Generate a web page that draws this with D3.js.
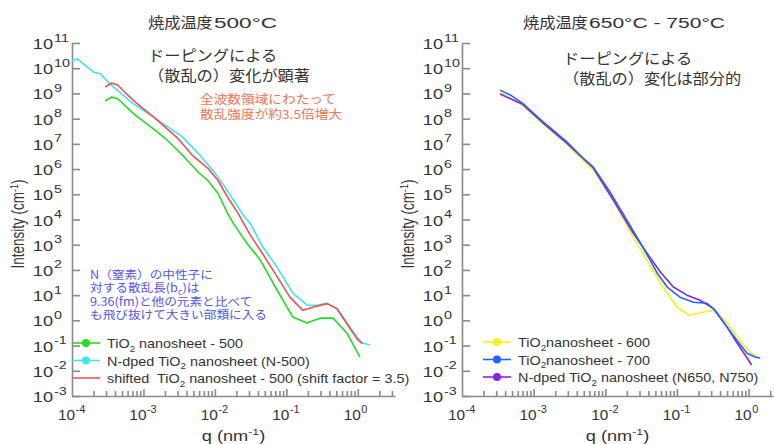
<!DOCTYPE html>
<html>
<head>
<meta charset="utf-8">
<script src="https://cdn.jsdelivr.net/npm/d3@7"></script>
<style>
	html, body { margin: 0; padding: 0; background: #fff; }
	svg { display: block; font-family: "Liberation Sans", Arial, sans-serif; }
	.jp { font-family: "Noto Sans CJK JP", sans-serif; }
	text { white-space: pre; }
</style>
</head>
<body>
<div id="chart" style="width:774px;height:444px"></div>
<script>

// ---- data (q in nm^-1, intensity in cm^-1) ----

// left panel : 500 C
var q500 = [2.9e-4, 3.6e-4, 4.4e-4, 7.6e-4, 1.45e-3, 2.0e-3, 3.5e-3, 5.8e-3, 7.9e-3, 1.1e-2, 1.5e-2, 1.8e-2, 2.8e-2, 4.3e-2, 7.4e-2, 0.123, 0.195, 0.30, 0.45, 0.71, 1.07];
var i500 = [5.0e8, 7.2e8, 6.0e8, 1.4e8, 3.5e7, 1.7e7, 3.6e6, 7.6e5, 3.6e5, 1.1e5, 1.8e4, 7.2e3, 1.15e3, 2.5e2, 16, 1.35, 0.78, 1.23, 1.23, 0.3, 0.035];

var qN500 = [1.0e-4, 1.2e-4, 2.0e-4, 2.5e-4, 3.2e-4, 6.9e-4, 1.45e-3, 3.5e-3, 5.8e-3, 1.0e-2, 1.38e-2, 1.9e-2, 2.6e-2, 3.1e-2, 4.7e-2, 7.4e-2, 0.123, 0.195, 0.27, 0.37, 0.51, 0.71, 0.98, 1.17, 1.48];
var iN500 = [2.1e10, 2.3e10, 7.0e9, 6.0e9, 2.8e9, 4.2e8, 1.05e8, 1.9e7, 4.3e6, 6.9e5, 1.95e5, 4.9e4, 1.26e4, 7.2e3, 7.9e2, 1.3e2, 12, 4.0, 4.0, 4.8, 3.0, 0.78, 0.21, 0.126, 0.105];

var qShift = [2.9e-4, 3.6e-4, 4.4e-4, 6.0e-4, 7.6e-4, 1.45e-3, 3.0e-3, 4.8e-3, 7.9e-3, 1.1e-2, 1.5e-2, 2.1e-2, 3.1e-2, 4.3e-2, 6.5e-2, 0.112, 0.17, 0.234, 0.37, 0.51, 0.71, 0.98, 1.15];
var iShift = [1.8e9, 2.6e9, 2.1e9, 8.7e8, 4.6e8, 1.05e8, 1.7e7, 3.6e6, 1.1e6, 3.6e5, 7.8e4, 1.8e4, 2.5e3, 6.2e2, 98, 8.3, 2.5, 3.3, 4.6, 2.9, 0.7, 0.18, 0.12];

// right panel : 650 - 750 C
var q600 = [3.4e-4, 6.9e-4, 1.35e-3, 2.9e-3, 6.8e-3, 1.29e-2, 2.45e-2, 3.8e-2, 6.4e-2, 0.10, 0.15, 0.23, 0.34, 0.50, 0.76, 1.05, 1.32];
var i600 = [1.1e9, 3.5e8, 6.2e7, 9.8e6, 9.1e5, 5.9e4, 2.0e3, 2.5e2, 21, 3.3, 1.6, 2.1, 2.5, 0.78, 0.16, 0.055, 0.035];

var q700 = [3.4e-4, 4.7e-4, 6.9e-4, 1.35e-3, 1.86e-3, 2.9e-3, 4.9e-3, 6.8e-3, 1.17e-2, 2.0e-2, 3.1e-2, 4.0e-2, 5.3e-2, 7.3e-2, 0.11, 0.17, 0.26, 0.34, 0.50, 0.69, 0.95, 1.23, 1.45];
var i700 = [1.35e9, 8.7e8, 4.2e8, 7.4e7, 3.5e7, 1.2e7, 2.7e6, 1.2e6, 1.2e5, 9.5e3, 1.15e3, 3.2e2, 74, 21, 8.3, 5.2, 4.8, 2.5, 0.54, 0.16, 0.05, 0.035, 0.032];

var qN650 = [3.4e-4, 6.9e-4, 1.35e-3, 2.9e-3, 6.8e-3, 1.29e-2, 2.45e-2, 3.8e-2, 5.9e-2, 8.9e-2, 0.138, 0.21, 0.32, 0.50, 0.69, 0.95, 1.1];
var iN650 = [9.5e8, 3.8e8, 6.8e7, 1.07e7, 1.1e6, 5.9e4, 2.9e3, 4.7e2, 81, 21, 10, 6.3, 3.0, 0.54, 0.126, 0.032, 0.017];

// ticks
var yExponents = [11, 10, 9, 8, 7, 6, 5, 4, 3, 2, 1, 0, -1, -2, -3];
var xExponents = [-4, -3, -2, -1, 0];


var
	width = 774,
	height = 444,
	axisColor = "#8a8a8a",
	textColor = "#333333",

	svg = d3.select("#chart")
		.append("svg")
		.attr("width", width)
		.attr("height", height);

function zip(qs, is) {
	return qs.map((q, k) => ({ q: q, i: is[k] }));
}

// the picture's lettering is stretched sideways, so text gets a scaleX
function stext(parent, x, y, size, sx, cls) {
	return parent.append("text")
		.attr("class", cls || null)
		.attr("transform", "translate(" + x + "," + y + ") scale(" + sx + ",1)")
		.attr("font-size", size)
		.attr("fill", textColor);
}

function panel(cfg) {
	var
		x = d3.scaleLog().domain(cfg.xDomain).range([cfg.x0, cfg.x1]),
		y = d3.scaleLog().domain([1e-3, 1e11]).range([396, 43]),
		g = svg.append("g");

	// minor + major ticks along q
	var xt = [];
	for (var e = -4; e <= 0; e++) {
		for (var m = 1; m <= 9; m++) {
			var v = m * Math.pow(10, e);
			if (v > 1e-4 && v <= cfg.xDomain[1]) xt.push(v);
		}
	}

	var xa = g.append("g")
		.attr("transform", "translate(0,396)")
		.call(d3.axisBottom(x).tickValues(xt).tickFormat("").tickSizeInner(-5).tickSizeOuter(0));
	xa.selectAll("line").attr("y2", d => Math.abs(Math.log10(d) - Math.round(Math.log10(d))) < 1e-6 ? -7 : -5);

	g.append("g")
		.attr("transform", "translate(" + cfg.x0 + ",0)")
		.call(d3.axisLeft(y).tickValues(yExponents.map(e => Math.pow(10, e))).tickFormat("").tickSizeInner(-8).tickSizeOuter(0));

	g.selectAll(".domain, .tick line")
		.attr("stroke", axisColor)
		.attr("stroke-width", 1.6);

	// y tick labels: "10" right-aligned, exponent after it
	yExponents.forEach(function(e) {
		var ty = y(Math.pow(10, e));
		stext(g, cfg.x0 - 19, ty + 6, 14, 1.3).attr("text-anchor", "end").text("10");
		stext(g, cfg.x0 - 18, ty - 1.5, 11, 1.3).text(e);
	});

	// x tick labels
	xExponents.forEach(function(e) {
		var tx = x(Math.pow(10, e));
		stext(g, tx + 3, 420, 14, 1.1).attr("text-anchor", "end").text("10");
		stext(g, tx + 3.5, 412.5, 10, 1.1).text(e);
	});

	// axis titles
	var yt = g.append("text")
		.attr("transform", "translate(" + (cfg.x0 - 48) + ",224) rotate(-90) scale(1,1.3)")
		.attr("text-anchor", "middle")
		.attr("font-size", 13.5)
		.attr("fill", textColor);
	yt.append("tspan").text("Intensity (cm");
	yt.append("tspan").attr("dy", -5).attr("font-size", 9).text("-1");
	yt.append("tspan").attr("dy", 5).text(")");

	var xt2 = stext(g, (cfg.x0 + cfg.x1) / 2, 441, 14, 1.3).attr("text-anchor", "middle");
	xt2.append("tspan").text("q (nm");
	xt2.append("tspan").attr("dy", -6).attr("font-size", 9.5).text("-1");
	xt2.append("tspan").attr("dy", 6).text(")");

	// curves
	var line = d3.line()
		.x(d => x(d.q))
		.y(d => y(d.i));

	cfg.series.forEach(function(s) {
		g.append("path")
			.datum(zip(s.q, s.i))
			.attr("fill", "none")
			.attr("stroke", s.color)
			.attr("stroke-width", 1.6)
			.attr("stroke-linejoin", "round")
			.attr("d", line);
	});

	// legend
	cfg.legend.forEach(function(s, k) {
		var ly = cfg.legendY + k * 17.5;
		g.append("line")
			.attr("x1", cfg.legendX).attr("x2", cfg.legendX + 28)
			.attr("y1", ly).attr("y2", ly)
			.attr("stroke", s.color).attr("stroke-width", 1.6);
		if (s.marker) {
			g.append("circle")
				.attr("cx", cfg.legendX + 14).attr("cy", ly).attr("r", 4)
				.attr("fill", s.color);
		}
		var t = stext(g, cfg.legendX + 35, ly + 5, 12.5, 1.15);
		t.append("tspan").text(s.pre);
		t.append("tspan").attr("dy", 3.5).attr("font-size", 8.5).text("2");
		t.append("tspan").attr("dy", -3.5).text(s.post);
	});
}

function jpText(x, y, lines, size, sx, color, lineHeight) {
	lines.forEach(function(l, k) {
		stext(svg, x, y + k * lineHeight, size, sx, "jp")
			.attr("fill", color)
			.text(l);
	});
}

panel({
	x0: 72, x1: 395, xDomain: [1e-4, Math.pow(10, 0.52)],
	series: [
		{ q: q500, i: i500, color: "#22dd22" },
		{ q: qN500, i: iN500, color: "#3ce6f2" },
		{ q: qShift, i: iShift, color: "#f45050" }
	],
	legendX: 72, legendY: 343,
	legend: [
		{ color: "#22dd22", marker: true, pre: "TiO", post: " nanosheet - 500" },
		{ color: "#3ce6f2", marker: true, pre: "N-dped TiO", post: " nanosheet (N-500)" },
		{ color: "#f45050", marker: false, pre: "shifted  TiO", post: " nanosheet - 500 (shift factor = 3.5)" }
	]
});

panel({
	x0: 462, x1: 773, xDomain: [1e-4, Math.pow(10, 0.34)],
	series: [
		{ q: q600, i: i600, color: "#f2f21e" },
		{ q: qN650, i: iN650, color: "#8a22e6" },
		{ q: q700, i: i700, color: "#1e66ff" }
	],
	legendX: 483, legendY: 342,
	legend: [
		{ color: "#f2f21e", marker: true, pre: "TiO", post: "nanosheet - 600" },
		{ color: "#1e66ff", marker: true, pre: "TiO", post: "nanosheet - 700" },
		{ color: "#8a22e6", marker: true, pre: "N-dped TiO", post: " nanosheet (N650, N750)" }
	]
});

// titles: kanji part + stretched latin part
jpText(148, 28, ["焼成温度"], 15, 1.08, textColor, 0);
svg.append("text")
	.attr("x", 214).attr("y", 28).attr("font-size", 15.5).attr("fill", textColor)
	.attr("textLength", 63).attr("lengthAdjust", "spacingAndGlyphs")
	.text("500°C");
jpText(523, 28, ["焼成温度"], 15, 1.08, textColor, 0);
svg.append("text")
	.attr("x", 589).attr("y", 28).attr("font-size", 15.5).attr("fill", textColor)
	.attr("textLength", 136).attr("lengthAdjust", "spacingAndGlyphs")
	.text("650°C - 750°C");

// notes
jpText(148, 61, ["ドーピングによる", "（散乱の）変化が顕著"], 15, 1.08, textColor, 20);
jpText(563, 64, ["ドーピングによる", "（散乱の）変化は部分的"], 15, 1.08, textColor, 20);
jpText(200, 104, ["全波数領域にわたって", "散乱強度が約3.5倍増大"], 12, 1.14, "#f27452", 15);

var blueNote = [
	"N（窒素）の中性子に",
	"対する散乱長(b",
	"9.36(fm)と他の元素と比べて",
	"も飛び抜けて大きい部類に入る"
];
jpText(90, 279, [blueNote[0]], 11.5, 1.1, "#5555ee", 13.4);
var bn = stext(svg, 90, 292.4, 11.5, 1.1, "jp").attr("fill", "#5555ee");
bn.append("tspan").text(blueNote[1]);
bn.append("tspan").attr("dy", 3).attr("font-size", 8).text("c");
bn.append("tspan").attr("dy", -3).text(")は");
jpText(90, 305.8, blueNote.slice(2), 11.5, 1.1, "#5555ee", 13.4);

</script>
</body>
</html>
